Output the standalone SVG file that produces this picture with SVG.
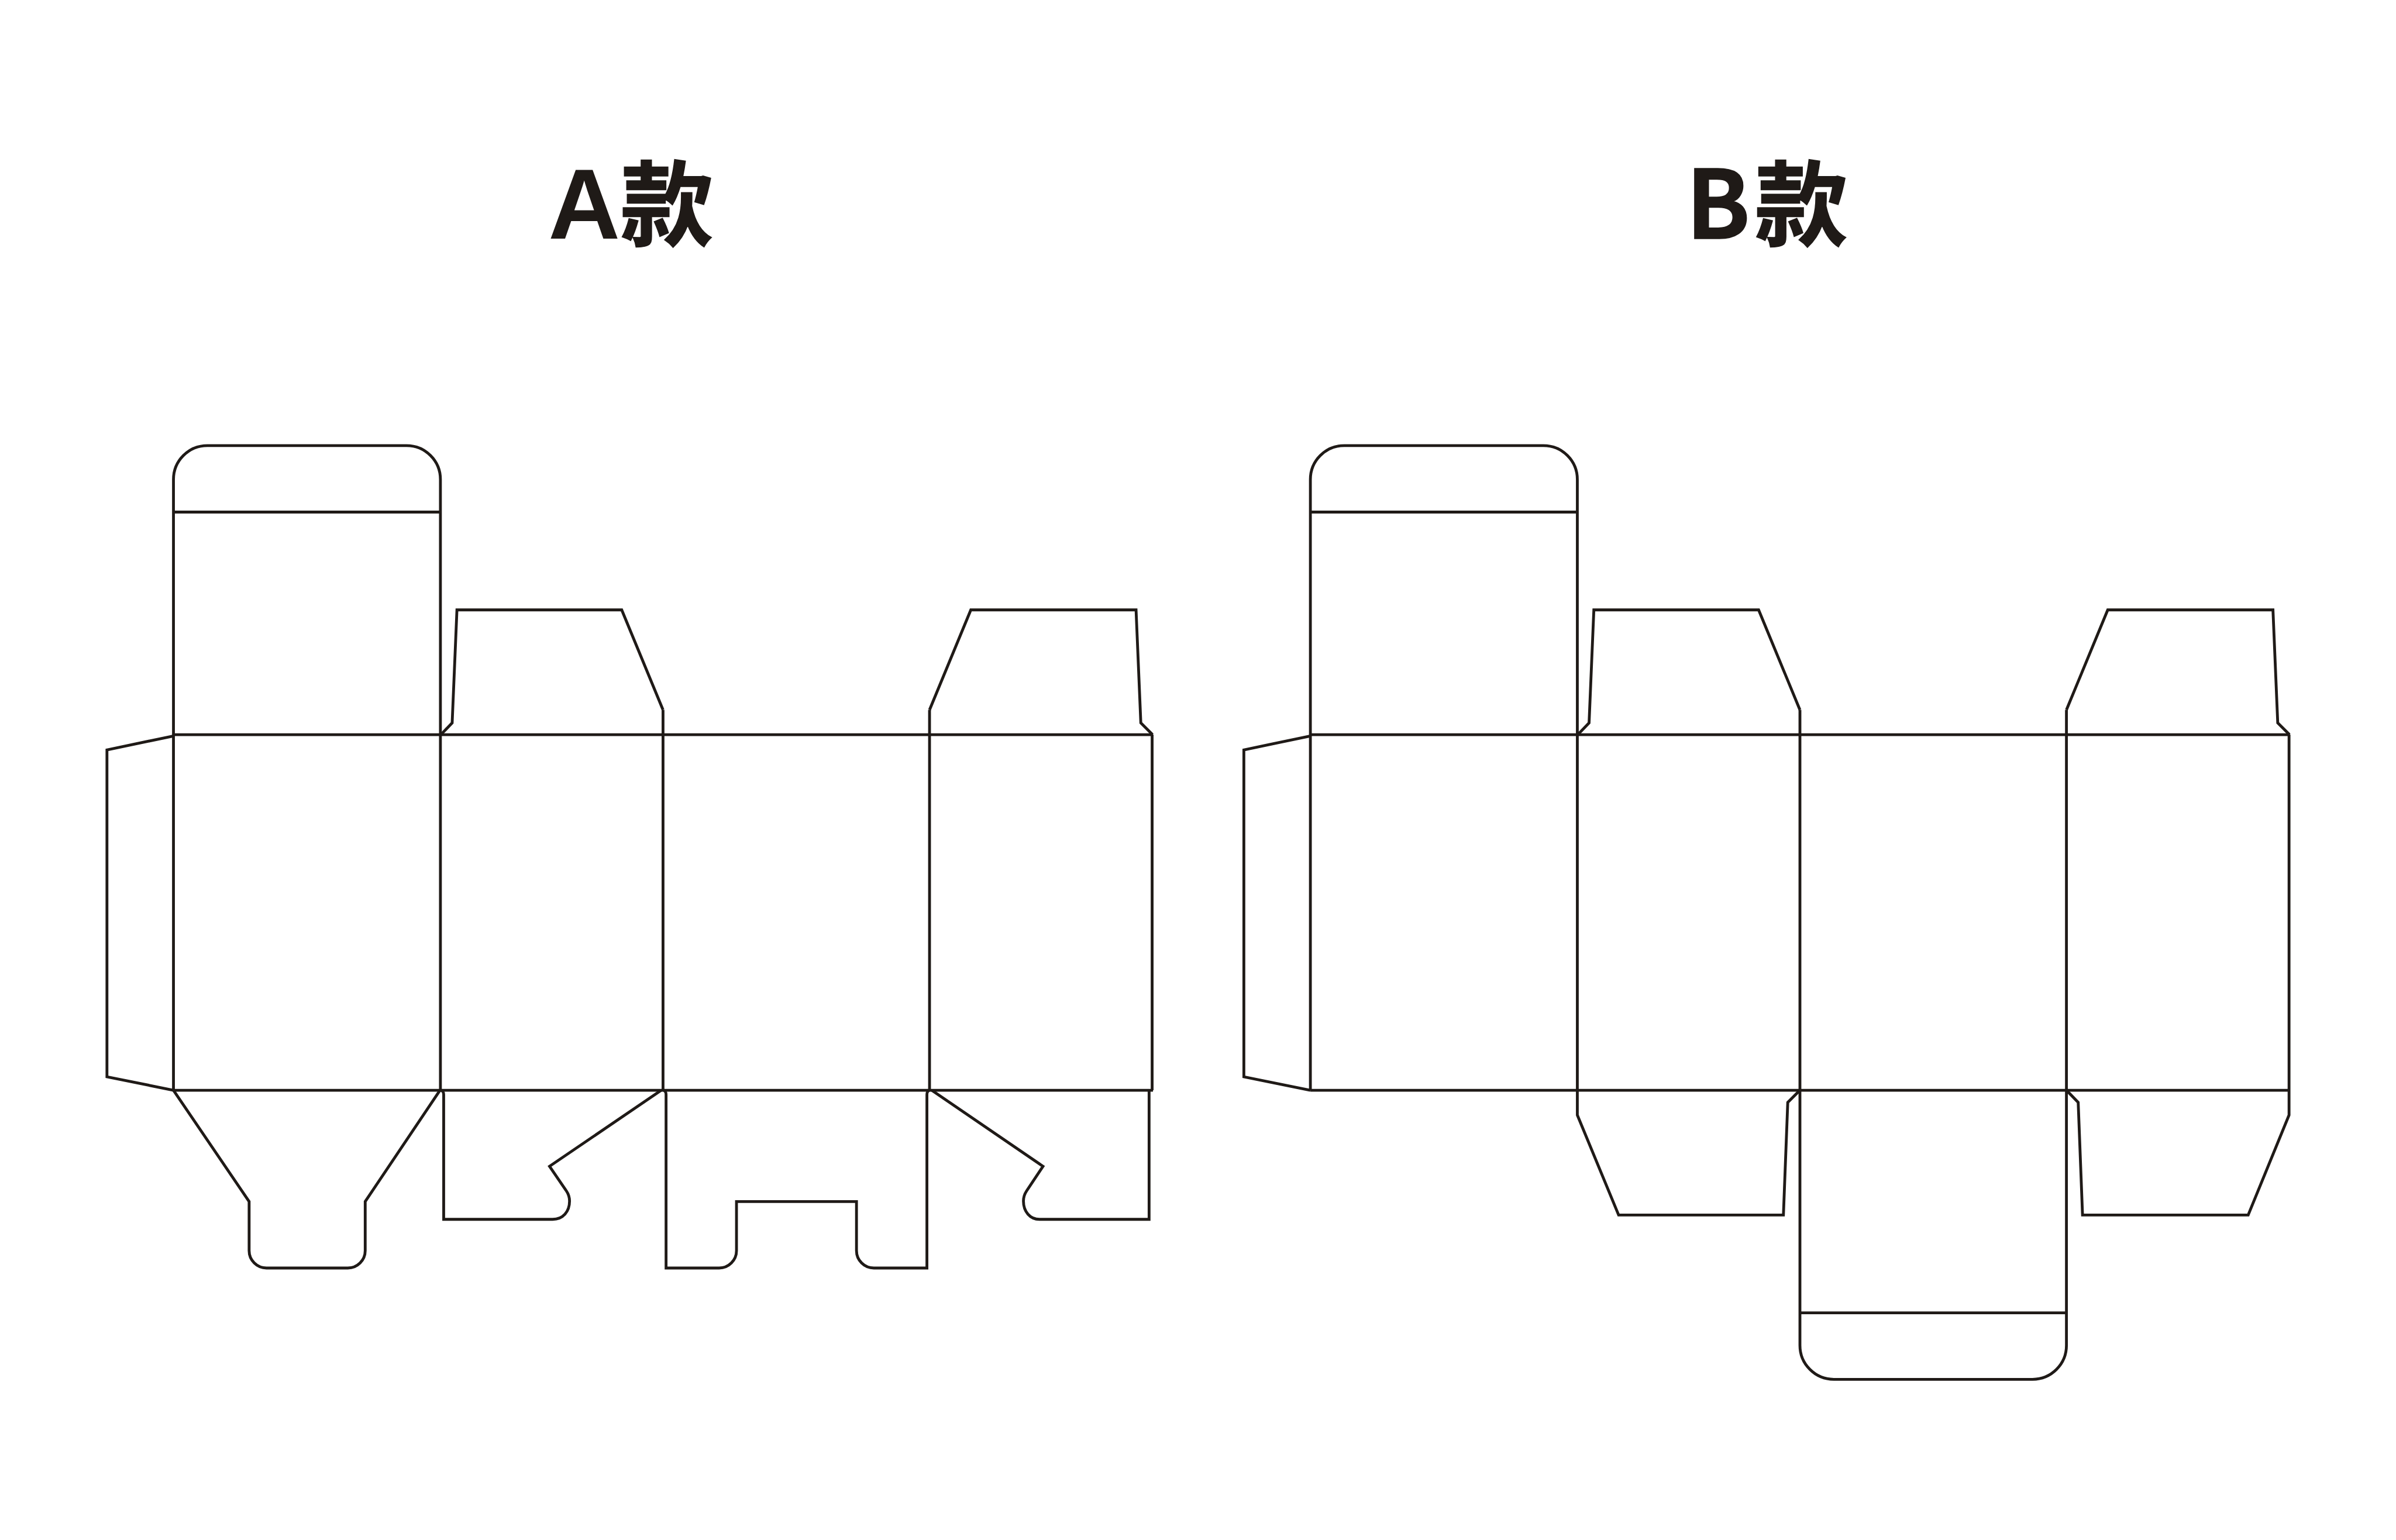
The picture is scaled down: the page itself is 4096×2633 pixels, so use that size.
<svg xmlns="http://www.w3.org/2000/svg" width="4096" height="2633" viewBox="0 0 4096 2633">
<style>
.l{fill:none;stroke:#1f1a17;stroke-width:6.500;stroke-linejoin:miter}
.t{fill:#1f1a17;stroke:#1f1a17;stroke-width:2;font-family:"Noto Sans CJK SC","Noto Sans",sans-serif;font-weight:700;font-size:214px}
.a{font-family:"Liberation Sans","Noto Sans CJK SC",sans-serif;font-size:229px;stroke-width:0}
.b{font-size:217px}
</style>
<defs>
<g id="common">
<path class="l" d="M399 1690V1103A78 78 0 0 1 477 1025H935A78 78 0 0 1 1013 1103V1690"/>
<path class="l" d="M399 1178H1013"/>
<path class="l" d="M399 1690H2652M399 2508H2652"/>
<path class="l" d="M399 1690V2508M1013 1690V2508M1525 1633V2508M2138 1633V2508M2650 1690V2508"/>
<path class="l" d="M399 1693L246 1725V2477L399 2508"/>
<path class="l" d="M1014 1690L1040 1663L1051 1403H1430L1525 1633"/>
<path class="l" d="M2138 1633L2233 1403H2613L2624 1663L2651 1690"/>
</g>
</defs>
<rect width="4096" height="2633" fill="#fff"/>
<g transform="scale(0.74324)">
<g id="box-a">
<use href="#common"/>
<path id="a-tab-1" class="l" d="M399 2508L573 2764V2877A40 40 0 0 0 613 2917H800A40 40 0 0 0 840 2877V2764L1012 2508"/>
<path id="a-tab-2" class="l" d="M1014 2508Q1020.500 2510 1020.500 2518V2805H1271C1295 2805 1310 2787 1310 2763C1310 2755 1307 2746 1303 2740L1264 2683L1521 2508"/>
<path id="a-tab-3" class="l" d="M1526 2508Q1532 2510 1532 2518V2917H1654A40 40 0 0 0 1694 2877V2764H1970V2877A40 40 0 0 0 2010 2917H2132V2518Q2132 2510 2138 2508"/>
<path id="a-tab-4" class="l" d="M2143 2508L2399 2683L2361 2740C2357 2746 2354 2755 2354 2763C2354 2787 2369 2805 2391 2805H2643V2508"/>
</g>
<g id="box-b" transform="translate(2615 0)">
<use href="#common"/>
<path id="b-flap-1" class="l" d="M1013 2508V2565L1108 2795H1487L1497 2536L1525 2508"/>
<path id="b-flap-2" class="l" d="M2138 2508L2165 2536L2175 2795H2556L2650 2565V2508"/>
<path id="b-panel" class="l" d="M1525 2508V3095A78 78 0 0 0 1603 3173H2060A78 78 0 0 0 2138 3095V2508M1525 3020H2138"/>
</g>
<text id="title-a" class="t" y="549"><tspan class="a" x="1261">A</tspan><tspan x="1427">款</tspan></text>
<text id="title-b" class="t" y="549"><tspan class="b" x="3878">B</tspan><tspan x="4036">款</tspan></text>
</g>
</svg>
